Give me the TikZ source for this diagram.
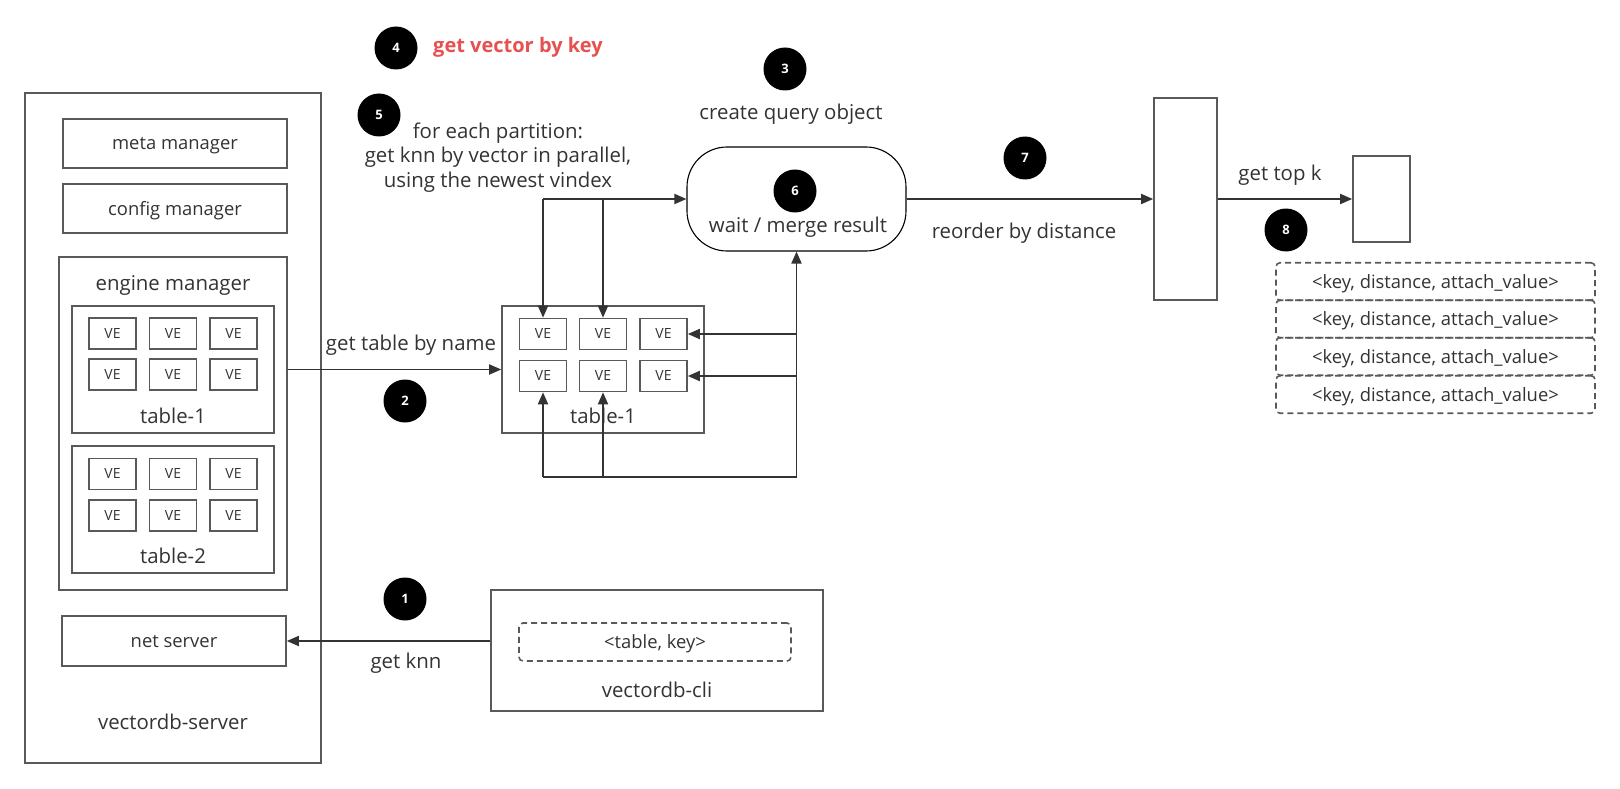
\documentclass[tikz,border=0pt]{standalone}
\usepackage{fontspec}
\setmainfont{Open Sans}
\usetikzlibrary{positioning, arrows.meta}
\definecolor{trait}{HTML}{595959}
\definecolor{fleche}{HTML}{333333}
\definecolor{texte}{HTML}{333333}
\definecolor{rouge}{HTML}{E65050}

\begin{document}
\begin{tikzpicture}[
  x=1pt, y=-1pt, text=texte,
  boite/.style={draw=trait, line width=1.6pt, inner sep=0pt, text depth=0pt,
                font=\fontsize{18.4}{22}\selectfont},
  ve/.style={boite, minimum width=47pt, minimum height=31pt, text height=0.9em,
             font=\fontsize{14}{16}\selectfont},
  pointille/.style={boite, dash pattern=on 6pt off 4pt, rounded corners=4pt},
  pastille/.style={circle, fill=black, minimum size=43pt, inner sep=0pt, text=white,
                   font=\fontsize{13}{15}\selectfont\bfseries},
  etiq/.style={font=\fontsize{20.4}{24.5}\selectfont, align=center, inner sep=0pt, yshift=-2.5pt},
  fl/.style={-{Triangle[length=12pt, width=10pt]}, fleche, line width=1.8pt},
]
\useasboundingbox (0,0) rectangle (1620,789);
% le serveur
\node[boite, minimum width=296pt, minimum height=670pt] (serveur) at (173,428) {};
\node[etiq] at (173,719) {vectordb-server};
\node[boite, minimum width=224pt, minimum height=49pt] (meta) at (175,143.5) {meta manager};
\node[boite, minimum width=224pt, minimum height=49pt] (config) at (175,208.5) {config manager};
\node[boite, minimum width=228pt, minimum height=333pt] (moteur) at (173,423.5) {};
\node[etiq] at (173,283) {engine manager};
\node[boite, minimum width=202pt, minimum height=127pt] (tableA) at (173,369.5) {};
\node[etiq] at (173,413) {table-1};
\node[boite, minimum width=202pt, minimum height=127pt] (tableB) at (173,509.5) {};
\node[etiq] at (173,553) {table-2};
\foreach \c/\x in {1/112.5, 2/173, 3/233.5} {
  \node[ve] (a1\c) at (\x,333.5) {VE};
  \node[ve] (a2\c) at (\x,374.5) {VE};
  \node[ve] (b1\c) at (\x,474) {VE};
  \node[ve] (b2\c) at (\x,515.5) {VE};
}
\node[boite, minimum width=224pt, minimum height=50pt] (net) at (174,641) {net server};
% le client
\node[boite, minimum width=332pt, minimum height=121pt] (cli) at (657,650.5) {};
\node[pointille, minimum width=272pt, minimum height=38pt] (cle) at (655,642) {<table, key>};
\node[etiq] at (657,687) {vectordb-cli};
% la table interrogée
\node[boite, minimum width=202pt, minimum height=127pt] (tableM) at (603,369.5) {};
\node[etiq] at (603,413) {table-1};
\foreach \c/\x in {1/543, 2/603, 3/663.5} {
  \node[ve] (m1\c) at (\x,334) {VE};
  \node[ve] (m2\c) at (\x,376) {VE};
}
% fusion, tri, top k
\node[draw=black, line width=1.1pt, rounded corners=40pt, minimum width=219pt,
      minimum height=104pt] (attente) at (796.5,199) {};
\node[etiq] at (798,225) {wait / merge result};
\node[boite, minimum width=63pt, minimum height=202pt] (tri) at (1185.5,199) {};
\node[boite, minimum width=57pt, minimum height=86pt] (topk) at (1381.5,199) {};
\foreach \i/\y in {1/281.5, 2/319, 3/356.5, 4/394.5}
  \node[pointille, minimum width=319pt, minimum height=37.5pt] (res\i) at (1435.5,\y)
    {<key, distance, attach\_value>};
% pastilles et textes
\node[pastille] (p1) at (405,599) {1};
\node[pastille] (p2) at (405,401) {2};
\node[pastille] (p3) at (785,69) {3};
\node[pastille] (p4) at (396,48) {4};
\node[pastille] (p5) at (379,115) {5};
\node[pastille] (p6) at (795,191) {6};
\node[pastille] (p7) at (1025,158) {7};
\node[pastille] (p8) at (1286,230) {8};
\node[etiq, anchor=west, text=rouge, font=\fontsize{20}{24}\selectfont\bfseries] at (433,45) {get vector by key};
\node[etiq] at (498,155) {for each partition:\\get knn by vector in parallel,\\using the newest vindex};
\node[etiq] at (791,112) {create query object};
\node[etiq] at (411,343) {get table by name};
\node[etiq] at (406,661) {get knn};
\node[etiq] at (1024,231) {reorder by distance};
\node[etiq] at (1280,173) {get top k};
% flux
\draw[fl] (net.east -| cli.west) -- (net.east);
\draw[fl] (moteur.east |- tableM.west) -- (tableM.west);
\draw[fl] (m11.north |- attente.west) -- (attente.west);
\draw[fl] (m11.north |- attente.west) -- (m11.north);
\draw[fl] (m12.north |- attente.west) -- (m12.north);
\coordinate (bas) at (543,477);
\draw[fl] (bas) -- (attente.south |- bas) -- (attente.south);
\draw[fl] (bas) -- (m21.south);
\draw[fl] (m22.south |- bas) -- (m22.south);
\draw[fl] (attente.south |- m13.east) -- (m13.east);
\draw[fl] (attente.south |- m23.east) -- (m23.east);
\draw[fl] (attente.east) -- (tri.west);
\draw[fl] (tri.east) -- (topk.west);
\end{tikzpicture}
\end{document}
